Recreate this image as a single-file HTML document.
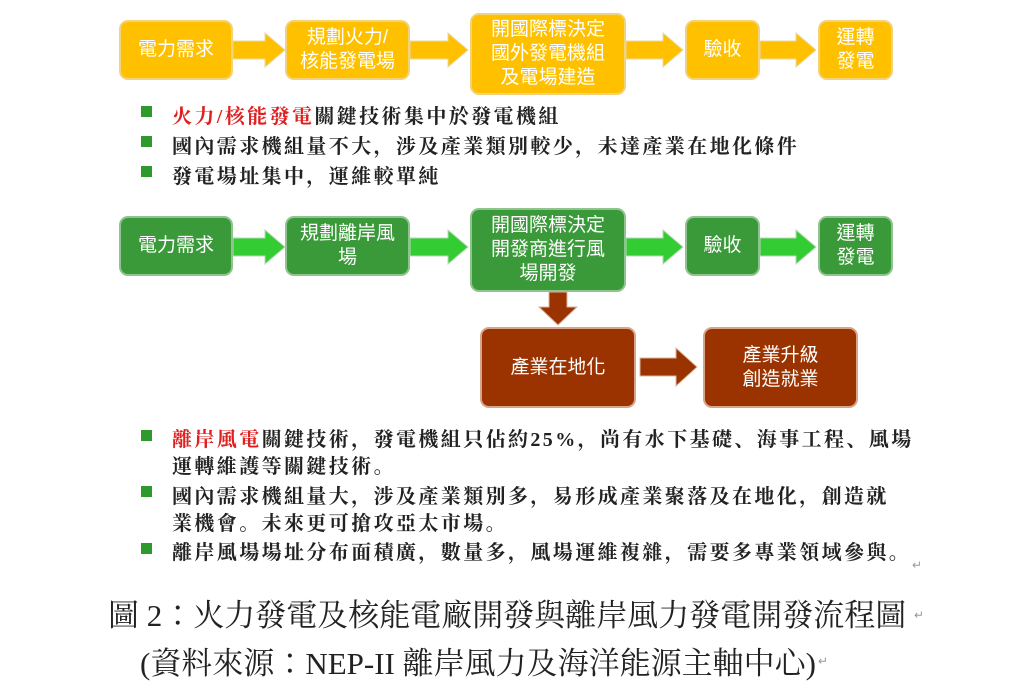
<!DOCTYPE html>
<html><head><meta charset="utf-8"><style>
body{margin:0;width:1024px;height:680px;background:#fff;position:relative;overflow:hidden;font-family:"Liberation Sans","Noto Sans CJK TC",sans-serif}
.b{position:absolute;border-radius:9px;color:#fff;font-size:19px;line-height:24px;display:flex;align-items:center;justify-content:center;text-align:center;box-sizing:border-box}
.y{background:#FFC000;border:2px solid #f2d27a}
.g{background:#3a9a3a;border:2px solid #8fc48f}
.r{background:#9a3300;border:2px solid #d9a58a}
svg{position:absolute;left:0;top:0}
.t{position:absolute;font-family:"Liberation Serif","Noto Serif CJK SC",serif;font-weight:bold;font-size:20px;color:#222;letter-spacing:2.4px;white-space:nowrap}
.sq{position:absolute;width:11px;height:11px;background:#2e9a2e}
.red{color:#e02020}
.cap{position:absolute;font-family:"Liberation Serif","Noto Serif CJK TC",serif;font-size:31px;color:#222;white-space:nowrap}
.rm{position:absolute;font-size:12px;color:#999}
</style></head><body>
<svg width="1024" height="680">
<g fill="#FFC000" stroke="#e8d9a8" stroke-width="1">
<polygon points="233,41 265,41 265,33 285,50 265,67 265,59 233,59"/>
<polygon points="410,41 448,41 448,33 468,50 448,67 448,59 410,59"/>
<polygon points="626,41 663,41 663,33 683,50 663,67 663,59 626,59"/>
<polygon points="760,41 796,41 796,33 816,50 796,67 796,59 760,59"/>
</g>
<g fill="#33cc33" stroke="#b9d9b9" stroke-width="1">
<polygon points="233,238 265,238 265,230 285,247 265,264 265,256 233,256"/>
<polygon points="410,238 448,238 448,230 468,247 448,264 448,256 410,256"/>
<polygon points="626,238 663,238 663,230 683,247 663,264 663,256 626,256"/>
<polygon points="760,238 796,238 796,230 816,247 796,264 796,256 760,256"/>
</g>
<g fill="#9a3300" stroke="#d9b5a0" stroke-width="1">
<polygon points="549,292 567,292 567,307 577,307 558,325 539,307 549,307"/>
<polygon points="640,358 676,358 676,348 697,367 676,386 676,376 640,376"/>
</g>
</svg>
<div class="b y" style="left:119px;top:20px;width:114px;height:60px">電力需求</div>
<div class="b y" style="left:285px;top:20px;width:125px;height:60px">規劃火力/<br>核能發電場</div>
<div class="b y" style="left:470px;top:13px;width:156px;height:82px">開國際標決定<br>國外發電機組<br>及電場建造</div>
<div class="b y" style="left:685px;top:20px;width:75px;height:60px">驗收</div>
<div class="b y" style="left:818px;top:20px;width:75px;height:60px">運轉<br>發電</div>
<div class="sq" style="left:141px;top:106px"></div><div class="t" style="left:172px;top:100px"><span class="red">火力/核能發電</span>關鍵技術集中於發電機組</div>
<div class="sq" style="left:141px;top:136px"></div><div class="t" style="left:172px;top:130px">國內需求機組量不大，涉及產業類別較少，未達產業在地化條件</div>
<div class="sq" style="left:141px;top:166px"></div><div class="t" style="left:172px;top:160px">發電場址集中，運維較單純</div>
<div class="b g" style="left:119px;top:216px;width:114px;height:60px">電力需求</div>
<div class="b g" style="left:285px;top:216px;width:125px;height:60px">規劃離岸風<br>場</div>
<div class="b g" style="left:470px;top:208px;width:156px;height:84px">開國際標決定<br>開發商進行風<br>場開發</div>
<div class="b g" style="left:685px;top:216px;width:75px;height:60px">驗收</div>
<div class="b g" style="left:818px;top:216px;width:75px;height:60px">運轉<br>發電</div>
<div class="b r" style="left:480px;top:327px;width:156px;height:81px">產業在地化</div>
<div class="b r" style="left:703px;top:327px;width:155px;height:81px">產業升級<br>創造就業</div>
<div class="sq" style="left:141px;top:430px"></div><div class="t" style="left:172px;top:423px"><span class="red">離岸風電</span>關鍵技術，發電機組只佔約25%，尚有水下基礎、海事工程、風場</div>
<div class="t" style="left:172px;top:450px">運轉維護等關鍵技術。</div>
<div class="sq" style="left:141px;top:486px"></div><div class="t" style="left:172px;top:480px">國內需求機組量大，涉及產業類別多，易形成產業聚落及在地化，創造就</div>
<div class="t" style="left:172px;top:507px">業機會。未來更可搶攻亞太市場。</div>
<div class="sq" style="left:141px;top:543px"></div><div class="t" style="left:172px;top:536px">離岸風場場址分布面積廣，數量多，風場運維複雜，需要多專業領域參與。</div>
<div class="rm" style="left:912px;top:558px">↵</div>
<div class="cap" style="left:108px;top:590px">圖 2：火力發電及核能電廠開發與離岸風力發電開發流程圖</div>
<div class="rm" style="left:914px;top:608px">↵</div>
<div class="cap" style="left:140px;top:638px">(資料來源：NEP-II 離岸風力及海洋能源主軸中心)</div>
<div class="rm" style="left:818px;top:654px">↵</div>
</body></html>
